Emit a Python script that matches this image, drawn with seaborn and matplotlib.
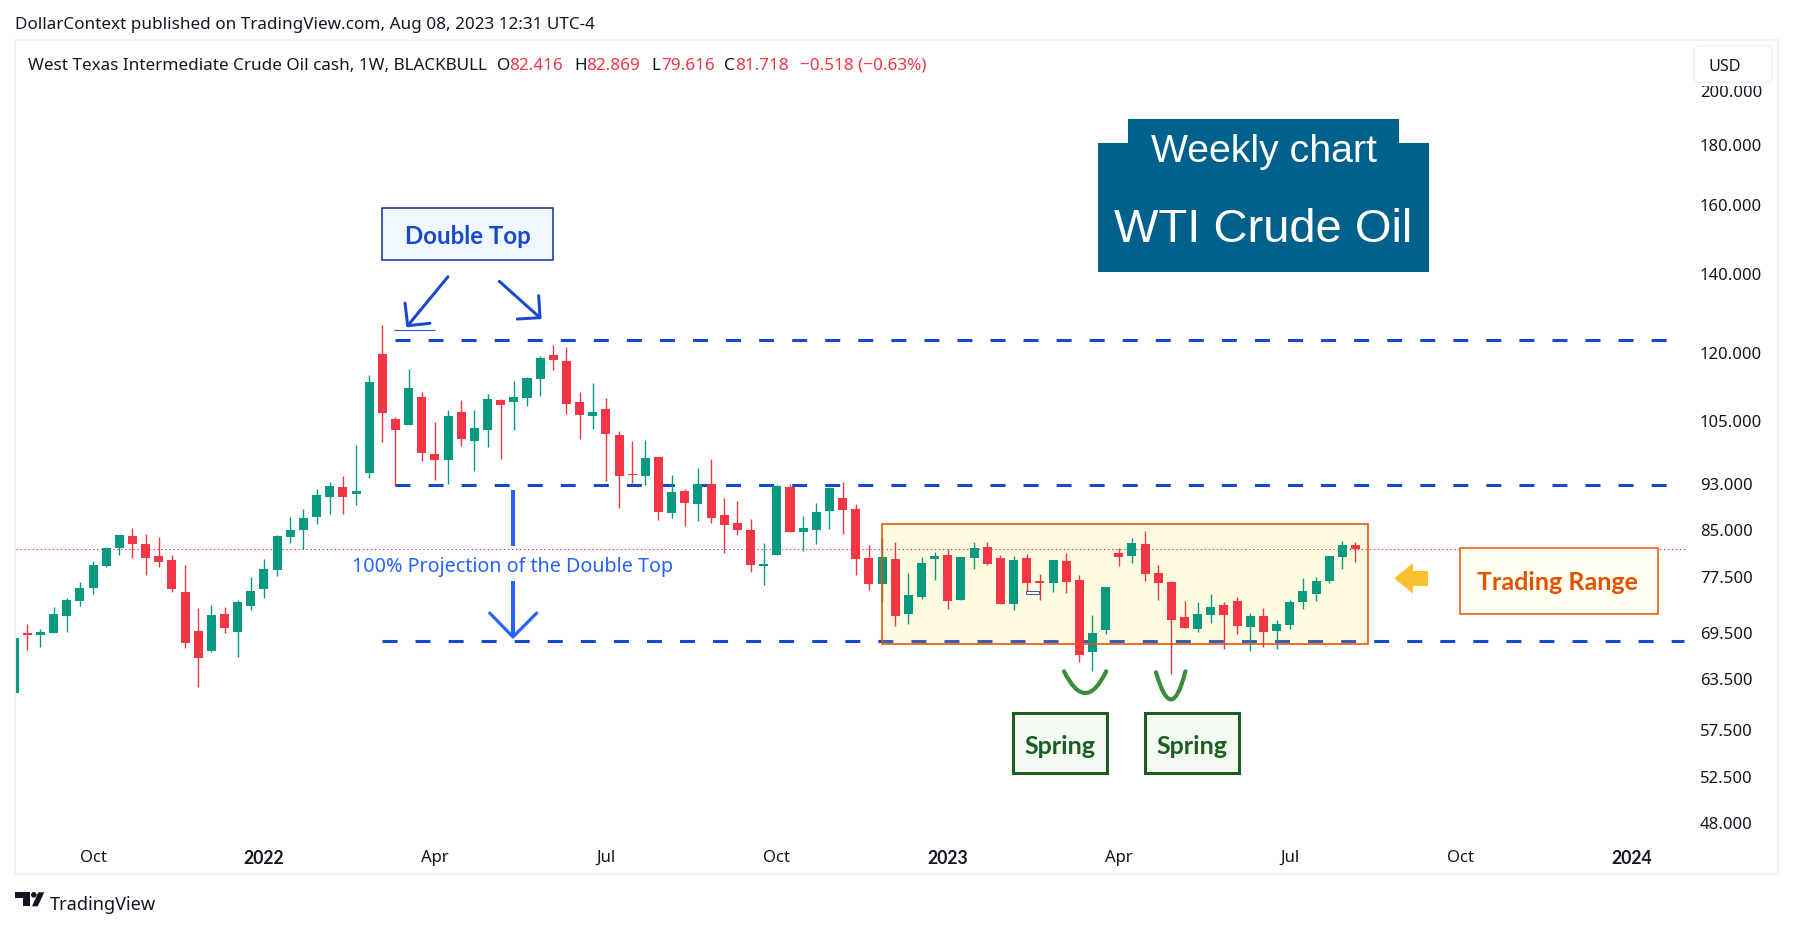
import numpy as np
import pandas as pd
import matplotlib
matplotlib.use("Agg")
import matplotlib.pyplot as plt
import seaborn as sns
from matplotlib.lines import Line2D
from matplotlib.patches import Circle, FancyBboxPatch, PathPatch, Polygon, Rectangle
from matplotlib.path import Path
from matplotlib.ticker import NullFormatter, NullLocator
from matplotlib.transforms import Affine2D

# ── DATA (weekly WTI candles, first one cut off by the left edge) ─────
first_week = "2021-08-23"

high = [68.71, 70.61, 69.92, 72.99, 74.28, 76.63, 79.84, 82.04, 83.99, 85.14, 84.15, 83.66, 80.78, 79.22, 72.85, 73.27, 72.99, 73.99, 77.38, 80.15, 83.99,
        86.99, 88.35, 91.87, 93.13, 94.22, 100.09, 114.73, 126.47, 105.71, 116.08, 110.99, 104.68, 107.16, 109.27, 107.16, 110.55, 109.48, 113.39, 114.28, 119.05, 121.64,
        121.16, 110.99, 112.95, 109.70, 102.86, 100.88, 101.07, 97.78, 94.41, 91.87, 95.70, 97.40, 90.27, 89.74, 86.65, 82.69, 92.58, 92.77, 87.16, 89.39, 92.22,
        93.13, 89.22, 82.37, 83.50, 82.85, 77.99, 80.46, 81.25, 81.73, 80.46, 82.85, 82.85, 80.78, 80.62, 80.93, 77.84, 79.99, 81.09, 77.69, 71.86, 75.89,
        81.88, 83.50, 84.64, 79.22, 76.78, 73.85, 73.70, 74.86, 73.70, 74.43, 72.14, 72.85, 71.16, 73.99, 77.23, 77.38, 80.62, 83.01, 82.869]
open_ = [61.72, 69.38, 69.16, 69.38, 71.72, 73.85, 75.74, 79.06, 81.88, 83.82, 82.53, 80.62, 79.99, 75.15, 69.65, 66.99, 72.00, 69.52, 73.13, 75.60, 78.45,
         83.66, 84.81, 86.99, 90.44, 92.22, 90.97, 94.78, 119.52, 105.30, 104.07, 109.91, 98.35, 97.21, 106.74, 100.88, 103.06, 109.27, 108.84, 109.70, 113.83, 119.29,
         117.90, 108.84, 105.91, 107.37, 102.06, 94.59, 94.22, 97.78, 87.67, 91.51, 89.22, 92.77, 87.33, 85.97, 84.81, 79.11, 80.78, 92.22, 84.48, 84.81, 88.01,
         90.27, 88.35, 80.30, 76.34, 80.15, 72.00, 74.43, 80.15, 80.78, 73.99, 80.30, 82.04, 80.30, 73.42, 80.30, 76.78, 76.48, 79.84, 76.93, 66.86, 69.79,
         81.09, 80.62, 82.53, 77.99, 76.63, 71.58, 69.92, 71.86, 73.27, 73.85, 70.20, 71.72, 69.65, 70.47, 73.70, 74.86, 76.78, 80.46, 82.416]
close = [68.71, 69.16, 69.52, 72.00, 73.99, 75.74, 79.22, 81.88, 83.99, 82.53, 80.30, 79.68, 75.60, 68.04, 66.08, 71.86, 70.06, 73.70, 75.30, 78.60, 83.82,
         84.81, 86.82, 90.80, 92.40, 90.44, 91.51, 113.17, 106.53, 103.06, 111.86, 98.54, 97.21, 105.91, 101.27, 103.46, 109.48, 108.21, 109.91, 114.06, 118.59, 118.13,
         108.42, 106.12, 106.74, 102.26, 94.22, 94.47, 97.59, 87.84, 91.33, 89.39, 92.77, 86.82, 85.64, 84.81, 79.22, 79.32, 92.40, 84.48, 85.14, 87.84, 92.04,
         88.18, 80.15, 76.34, 80.46, 71.72, 74.72, 79.53, 80.62, 73.85, 80.46, 81.88, 79.37, 73.42, 79.99, 76.48, 76.48, 79.99, 76.63, 66.47, 69.38, 75.89,
         80.46, 82.69, 77.84, 76.48, 71.16, 70.06, 72.00, 72.99, 71.86, 70.33, 71.72, 69.52, 70.61, 73.70, 75.30, 76.78, 80.62, 82.37, 81.718]
low = [61.72, 67.12, 67.51, 69.38, 69.52, 73.13, 74.86, 78.91, 80.78, 80.30, 77.69, 78.91, 75.15, 67.38, 62.45, 66.86, 69.38, 66.21, 72.56, 74.28, 77.54,
       82.69, 81.73, 85.81, 87.50, 87.50, 89.04, 93.86, 100.68, 92.40, 104.07, 97.02, 93.49, 92.77, 99.90, 95.15, 99.70, 97.40, 103.06, 108.00, 110.12, 115.85,
       106.33, 101.27, 103.26, 93.31, 88.53, 92.95, 92.58, 86.48, 86.82, 85.47, 86.31, 85.97, 81.09, 83.99, 78.14, 76.19, 80.78, 84.48, 81.41, 82.53, 84.97,
       84.15, 77.69, 75.45, 73.70, 70.33, 70.61, 74.14, 76.93, 72.70, 73.99, 78.60, 79.22, 73.42, 72.56, 75.30, 73.99, 75.15, 75.01, 65.57, 64.43, 69.25,
       79.06, 79.53, 76.78, 73.99, 64.05, 70.06, 69.52, 70.75, 67.25, 69.25, 66.99, 67.51, 67.25, 69.92, 72.70, 73.85, 76.48, 78.60, 79.616]
last_close = 81.718

level_names = ["top", "neck", "target"]
level_prices = [122.8, 92.5, 68.27]
level_starts = ["2022-03-14", "2022-03-14", "2022-03-07"]
level_end = "2024-01-29"

price_ticks = [48, 52.5, 57.5, 63.5, 69.5, 77.5, 85, 93, 105, 120, 140, 160, 180, 200]
date_ticks = ["2021-10-04", "2022-01-03", "2022-04-04", "2022-07-04", "2022-10-03",
              "2023-01-02", "2023-04-03", "2023-07-03", "2023-10-02", "2024-01-01"]
date_labels = ["Oct", "2022", "Apr", "Jul", "Oct", "2023", "Apr", "Jul", "Oct", "2024"]

# ── STYLE ─────────────────────────────────────────────────────────────
W, H = 1793, 928
GREEN = "#089981"
RED = "#f23645"
INK = "#131722"
LEVEL = "#1848cc"
PROJ = "#2962ff"
ORANGE = "#e65100"
SPRING = "#1b5e20"
FRAME = "#f0f3fa"

sns.set_theme(style="white")
plt.rcParams["font.family"] = ["Noto Sans", "DejaVu Sans"]
plt.rcParams["lines.scale_dashes"] = False

fig = plt.figure(figsize=(W / 100, H / 100), dpi=100, facecolor="white")
ax = fig.add_axes([16 / W, 1 - 838 / H, (1688 - 16) / W, (838 - 42) / H], facecolor="none")

# screen pixels, y going down, for the hand drawn annotations
pix = Affine2D().scale(1 / W, -1 / H).translate(0, 1) + fig.transFigure


def px_text(x, y, s, **kw):
    kw.setdefault("va", "center_baseline")
    kw.setdefault("color", INK)
    kw.setdefault("zorder", 7)
    fig.text(x, y, s, transform=pix, **kw)


def px_box(x0, y0, x1, y1, face, edge, lw):
    fig.add_artist(Rectangle((x0, y0), x1 - x0, y1 - y0, transform=pix, facecolor=face,
                             edgecolor=edge, linewidth=lw * 0.72, zorder=5))


def px_line(xs, ys, color, lw, cap="round"):
    fig.add_artist(Line2D(xs, ys, transform=pix, color=color, linewidth=lw * 0.72,
                          solid_capstyle=cap, solid_joinstyle="round", zorder=6))


# frame around the chart
fig.add_artist(Rectangle((15, 41), 1778 - 15, 875 - 41, transform=pix, facecolor="none",
                         edgecolor=FRAME, linewidth=1.5, zorder=1))

# ── PRICE LEVELS ──────────────────────────────────────────────────────
levels = pd.DataFrame({
    "level": level_names * 2,
    "date": pd.to_datetime(level_starts + [level_end] * 3),
    "price": level_prices * 2,
})
sns.lineplot(data=levels, x="date", y="price", units="level", estimator=None, color=LEVEL,
             linewidth=2.2, linestyle=(0, (10.8, 13.0)), legend=False, ax=ax, zorder=1)

# trading range sits on the levels but under the candles
ax.add_patch(Rectangle((882.4, 525.3), 1368.3 - 882.4, 645.3 - 525.3, transform=pix,
                       facecolor="#ffeb3b", alpha=0.15, edgecolor="none", zorder=2))

ax.axhline(last_close, color=RED, linewidth=0.8, linestyle=(0, (1.0, 1.9)), zorder=2.5)

# ── CANDLES ───────────────────────────────────────────────────────────
weeks = pd.date_range(first_week, periods=len(high), freq="W-MON")
high_arr, low_arr = np.array(high), np.array(low)
open_arr, close_arr = np.array(open_), np.array(close)
colors = np.where(close_arr >= open_arr, GREEN, RED)

ax.vlines(weeks, low_arr, high_arr, colors=colors, linewidth=1.0, zorder=3)
ax.bar(weeks, np.abs(close_arr - open_arr), bottom=np.minimum(open_arr, close_arr), width=4.8,
       color=colors, linewidth=0, zorder=4)

ax.add_patch(Rectangle((882.4, 525.3), 1368.3 - 882.4, 645.3 - 525.3, transform=pix,
                       facecolor="none", edgecolor=ORANGE, linewidth=1.15, zorder=4.5))
ax.add_patch(Rectangle((1026, 592.3), 13, 2.4, transform=pix, facecolor="white",
                       edgecolor="#3f51a5", linewidth=0.7, zorder=4.5))

# ── AXES ──────────────────────────────────────────────────────────────
ax.set_yscale("log")
ax.set_ylim(46.62, 220.0)
ax.set_xlim(pd.Timestamp("2021-08-24"), pd.Timestamp("2024-01-31"))
ax.set_yticks(price_ticks)
ax.set_yticklabels([f"{v:.3f}" for v in price_ticks])
ax.yaxis.set_minor_locator(NullLocator())
ax.yaxis.set_minor_formatter(NullFormatter())
ax.tick_params(axis="y", which="both", left=False, right=False, labelleft=False, labelright=True,
               length=0, pad=8.6, labelsize=12, labelcolor=INK)
ax.set_xticks(pd.to_datetime(date_ticks))
ax.set_xticklabels(date_labels)
ax.tick_params(axis="x", length=0, pad=8.5, labelsize=12, labelcolor=INK)
for tick in ax.get_xticklabels():
    if tick.get_text().isdigit():
        tick.set_fontfamily("Lato")
        tick.set_fontweight("bold")
        tick.set_fontsize(12.7)
ax.set_xlabel("")
ax.set_ylabel("")
sns.despine(ax=ax, left=True, bottom=True, right=True, top=True)

# ── HEADER ────────────────────────────────────────────────────────────
px_text(15, 23, "DollarContext published on TradingView.com, Aug 08, 2023 12:31 UTC-4", fontsize=12.3)
px_text(27.5, 63.5, "West Texas Intermediate Crude Oil cash, 1W, BLACKBULL", fontsize=12.3)
for x, s, c in [(497, "O", INK), (509.5, "82.416", RED), (574, "H", INK), (586.6, "82.869", RED),
                (651, "L", INK), (661, "79.616", RED), (724, "C", INK), (735, "81.718", RED),
                (800, "\u22120.518 (\u22120.63%)", RED)]:
    px_text(x, 63.5, s, color=c, fontsize=12.3)

# the currency button hides the top of the 200.000 label
fig.add_artist(Rectangle((1690, 43), 86, 44, transform=pix, facecolor="white", edgecolor="none", zorder=5))
fig.add_artist(FancyBboxPatch((1694, 46.7), 78, 36.6, boxstyle="round,pad=0,rounding_size=6", transform=pix,
                              facecolor="white", edgecolor="#eff1f6", linewidth=1.2, zorder=6))
px_text(1708, 65, "USD", fontsize=11.6)

# ── TITLE BOX ─────────────────────────────────────────────────────────
fig.add_artist(Polygon([(1098, 144), (1127.5, 144), (1127.5, 120), (1399, 120), (1399, 144),
                        (1429, 144), (1429, 272.7), (1098, 272.7)], closed=True, transform=pix,
                       facecolor="#00628c", edgecolor="none", zorder=5))
px_text(1264, 148, "Weekly chart", color="white", fontsize=28.3, ha="center", family="Liberation Sans")
px_text(1263, 225, "WTI Crude Oil", color="white", fontsize=33.9, ha="center", family="Liberation Sans")

# ── DOUBLE TOP NOTES ──────────────────────────────────────────────────
px_box(382.3, 209.3, 553.3, 261.3, "#f0f7ff", "#0d2e8a", 1.5)
px_text(468, 235, "Double Top", color=LEVEL, fontsize=17.3, ha="center", family="Lato", fontweight="bold")
px_line([448, 407.7], [277.7, 326.7], LEVEL, 3)
px_line([405, 407.7, 430], [304, 326.7, 324.3], LEVEL, 3)
px_line([499.3, 540], [282.3, 318.7], LEVEL, 3)
px_line([538.7, 540, 517.3], [296.7, 318.7, 320], LEVEL, 3)
px_line([394, 435], [331.3, 331.3], "#2b5bdd", 1.2, cap="butt")

# ── PROJECTION ────────────────────────────────────────────────────────
px_line([513, 513], [491, 546.7], PROJ, 4, cap="butt")
px_line([513, 513], [581.7, 638], PROJ, 4, cap="butt")
px_line([489.7, 513, 536.7], [614, 638, 614], PROJ, 3.2)
px_text(513, 565, "100% Projection of the Double Top", color=PROJ, fontsize=14.2, ha="center")

# ── TRADING RANGE NOTE ────────────────────────────────────────────────
px_box(1460.3, 549.3, 1657.7, 615.3, "#fffff2", ORANGE, 1.5)
px_text(1557, 581, "Trading Range", color=ORANGE, fontsize=18, ha="center", family="Lato", fontweight="bold")
fig.add_artist(Polygon([(1394.3, 579.3), (1413, 564), (1413, 572), (1428, 572), (1428, 587),
                        (1413, 587), (1413, 594.7)], closed=True, transform=pix,
                       facecolor="#fbc02d", edgecolor="none", zorder=5))

# ── SPRINGS ───────────────────────────────────────────────────────────
for p0, ctrl, p1 in [((1064, 672.3), (1085.5, 715.7), (1106.2, 672.3)),
                     ((1156, 673.3), (1171.6, 728), (1185.4, 672.3))]:
    fig.add_artist(PathPatch(Path([p0, ctrl, p1], [Path.MOVETO, Path.CURVE3, Path.CURVE3]), transform=pix,
                             facecolor="none", edgecolor="#388e3c", linewidth=3.0, capstyle="round", zorder=6))
for x0, x1 in [(1012.5, 1106.6), (1144.8, 1238.8)]:
    px_box(x0, 714, x1, 774, "#f3f9f3", SPRING, 3)
    px_text((x0 + x1) / 2, 745, "Spring", color=SPRING, fontsize=18, ha="center", family="Lato", fontweight="bold")

# ── FOOTER LOGO ───────────────────────────────────────────────────────
fig.add_artist(Polygon([(15, 893.3), (30, 893.3), (30, 907.3), (23, 907.3), (23, 899), (15, 899)],
                       closed=True, transform=pix, facecolor=INK, edgecolor="none", zorder=5))
fig.add_artist(Polygon([(38.3, 893.3), (44.3, 893.3), (37.7, 907.3), (32, 907.3)],
                       closed=True, transform=pix, facecolor=INK, edgecolor="none", zorder=5))
fig.add_artist(Circle((33.8, 895.8), 2.8, transform=pix, facecolor=INK, edgecolor="none", zorder=5))
px_text(50, 902.7, "TradingView", fontsize=13.1)

fig.savefig("out.png", dpi=100)
